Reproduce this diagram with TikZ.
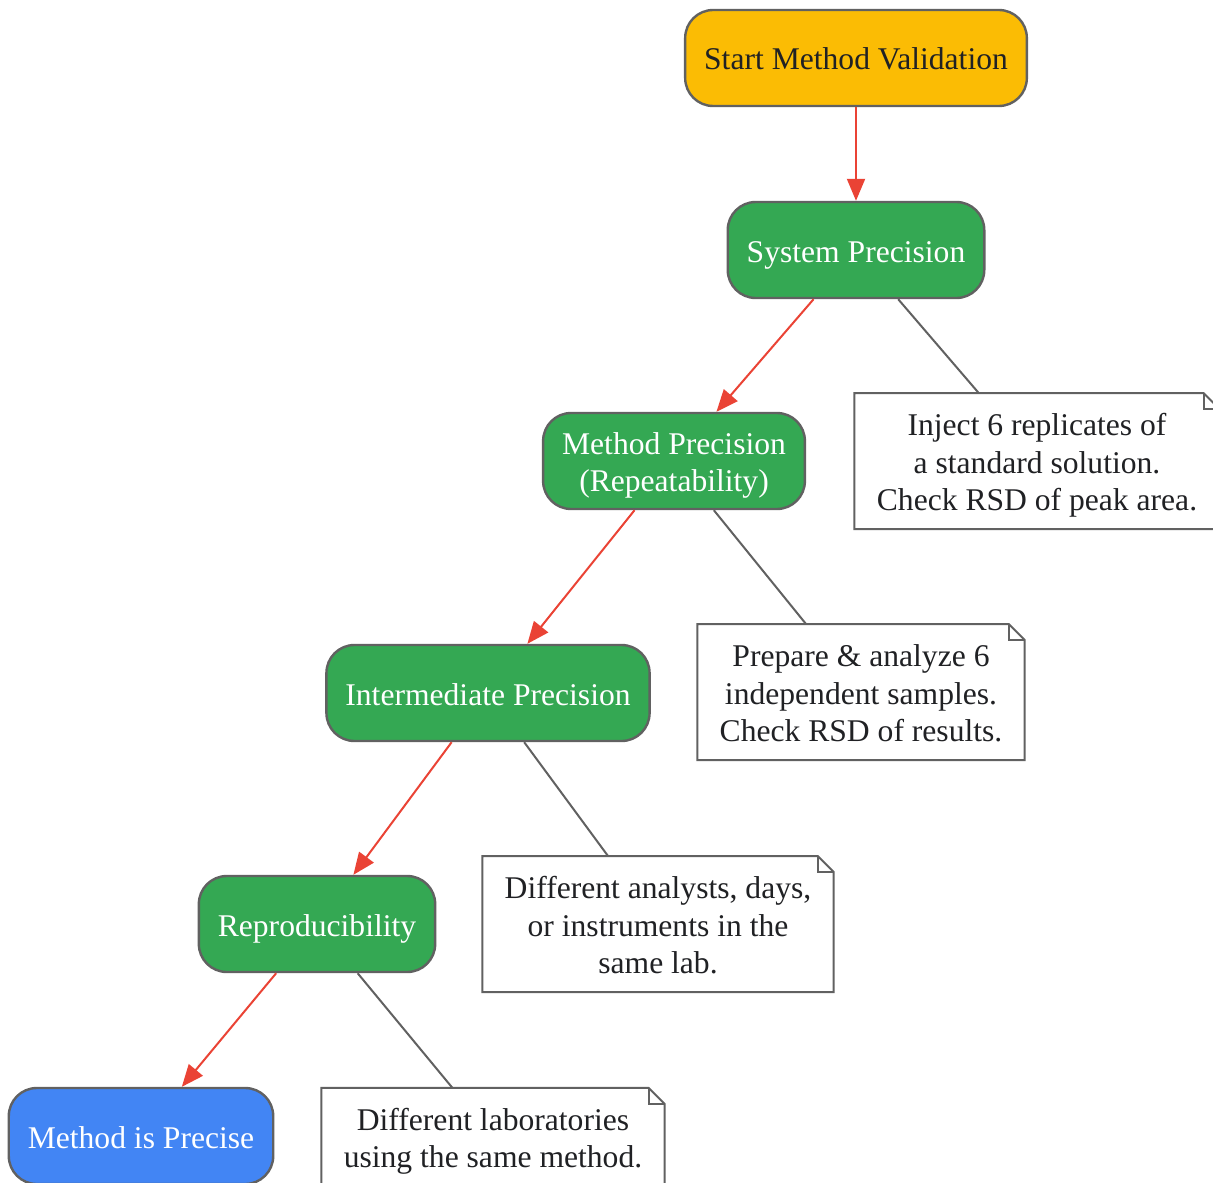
\documentclass[tikz,border=0pt]{standalone}
\usepackage{fontspec}
\setmainfont{Liberation Serif}
\usetikzlibrary{arrows.meta}

\definecolor{startyellow}{HTML}{FBBC04}
\definecolor{stepgreen}{HTML}{34A853}
\definecolor{endblue}{HTML}{4285F4}
\definecolor{edgegray}{HTML}{616161}
\definecolor{flowred}{HTML}{EA4335}
\definecolor{textdark}{HTML}{202124}

% invisible struts for the text lines
\newcommand{\toppad}{\rule{0pt}{17pt}}
\newcommand{\botpad}{\rule[-5pt]{0pt}{5pt}}

\tikzset{
	box/.style={rectangle, rounded corners=14pt, draw=edgegray, line width=1.2pt, minimum height=48pt, inner xsep=9.5pt, inner ysep=3pt, align=center, font=\fontsize{15.8}{18.8}\selectfont},
	startbox/.style={box, fill=startyellow, text=textdark},
	stepbox/.style={box, fill=stepgreen, text=white},
	endbox/.style={box, fill=endblue, text=white},
	notebox/.style={rectangle, fill=white, inner xsep=11pt, inner ysep=4pt, align=center, text=textdark, font=\fontsize{15.8}{18.8}\selectfont},
	flow/.style={draw=flowred, line width=1pt, -{Triangle[length=11pt,width=9pt]}},
	link/.style={draw=edgegray, line width=1pt}
}

\begin{document}
\begin{tikzpicture}[x=0.5pt, y=-0.5pt]
				\useasboundingbox (0,0) rectangle (1213,1182);
				\clip (0,0) rectangle (1213,1182);

				% steps
				\node[startbox] (start) at (856,58) {\toppad Start Method Validation\botpad};
				\node[stepbox] (sys) at (856,250) {\toppad System Precision\botpad};
				\node[stepbox] (mprec) at (674,461) {\toppad Method Precision\\(Repeatability)\botpad};
				\node[stepbox] (inter) at (488,693) {\toppad Intermediate Precision\botpad};
				\node[stepbox] (repro) at (317,924) {\toppad Reproducibility\botpad};
				\node[endbox] (prec) at (141,1136) {\toppad Method is Precise\botpad};

				% notes
				\node[notebox] (nsys) at (1037,461) {\toppad Inject 6 replicates of\\a standard solution.\\Check RSD of peak area.\botpad};
				\node[notebox] (nmprec) at (861,692) {\toppad Prepare \& analyze 6\\independent samples.\\Check RSD of results.\botpad};
				\node[notebox] (ninter) at (658,924) {\toppad Different analysts, days,\\or instruments in the\\same lab.\botpad};
				\node[notebox] (nrepro) at (493,1137) {\toppad Different laboratories\\using the same method.\botpad};

				\foreach \n in {nsys,nmprec,ninter,nrepro} {
					\draw[edgegray, line width=1pt] (\n.north west) -- ([xshift=-8pt]\n.north east) -- ([yshift=-8pt]\n.north east) -- (\n.south east) -- (\n.south west) -- cycle;
					\draw[edgegray, line width=1pt] ([xshift=-8pt]\n.north east) -- ([xshift=-8pt,yshift=-8pt]\n.north east) -- ([yshift=-8pt]\n.north east);
				}

				\draw[flow] (start) -- (sys);
				\draw[flow] (sys) -- (mprec);
				\draw[flow] (mprec) -- (inter);
				\draw[flow] (inter) -- (repro);
				\draw[flow] (repro) -- (prec);

				\draw[link] (sys) -- (nsys);
				\draw[link] (mprec) -- (nmprec);
				\draw[link] (inter) -- (ninter);
				\draw[link] (repro) -- (nrepro);

			\end{tikzpicture}
\end{document}
